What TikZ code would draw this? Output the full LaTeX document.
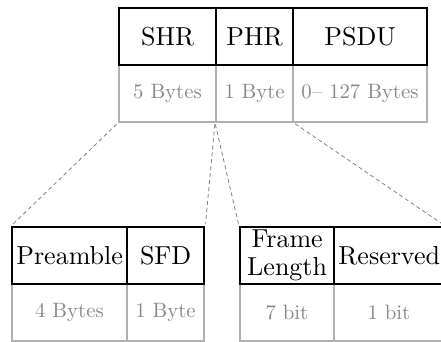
\documentclass[tikz,border=0pt]{standalone}
\usepackage{fontspec}
% the 10pt design of Latin Modern, scaled up to the large sizes used here
\setmainfont{lmroman10-regular.otf}
\definecolor{sizegray}{HTML}{B0B0B0}
\definecolor{labelgray}{HTML}{888888}
\definecolor{zoomgray}{HTML}{808080}
\begin{document}
\begin{tikzpicture}[x=1pt,y=-1pt,
  field/.style={draw=black, line width=2.3pt, minimum height=57pt, inner sep=0pt,
    anchor=north west, align=center, font=\fontsize{26}{28}\selectfont},
  sizecell/.style={draw=sizegray, line width=1.9pt, minimum height=57pt, inner sep=0pt,
    anchor=north west, text=labelgray, font=\fontsize{20.8}{25}\selectfont},
  zoomline/.style={draw=zoomgray, line width=0.8pt, dash pattern=on 4pt off 3pt,
    shorten <=1.5pt, shorten >=2.5pt}]
\useasboundingbox (0,0) rectangle (441,341);
\clip (0,0) rectangle (441,341);

% frame sizes (drawn first so the black borders lie on top)
\node[sizecell, minimum width=97pt]  (shrS) at (118,64) {5 Bytes};
\node[sizecell, minimum width=77pt]  (phrS) at (215,64) {1 Byte};
\node[sizecell, minimum width=134pt] (psduS) at (292,64) {0-- 127 Bytes};

\node[sizecell, minimum width=115pt] (preS) at (11,283)  {4 Bytes};
\node[sizecell, minimum width=77pt]  (sfdS) at (126,283) {1 Byte};
\node[sizecell, minimum width=94pt]  (lenS) at (239,283) {7 bit};
\node[sizecell, minimum width=110pt] (resS) at (333,283) {1 bit};

% PPDU fields
\node[field, minimum width=97pt]  (shr)  at (118,7) {SHR};
\node[field, minimum width=77pt]  (phr)  at (215,7) {PHR};
\node[field, minimum width=134pt] (psdu) at (292,7) {PSDU};

% SHR and PHR breakdown
\node[field, minimum width=115pt] (pre) at (11,226)  {Preamble};
\node[field, minimum width=77pt]  (sfd) at (126,226) {SFD};
\node[field, minimum width=94pt]  (len) at (239,226) {Frame\\Length};
\node[field, minimum width=110pt] (res) at (333,226) {Reserved};

% expansion lines
\draw[zoomline] (shrS.south west) -- (pre.north west);
\draw[zoomline] (phrS.south west) -- (sfd.north east);
\draw[zoomline] (phrS.south west) -- (len.north west);
\draw[zoomline] (phrS.south east) -- (res.north east);
\end{tikzpicture}
\end{document}
